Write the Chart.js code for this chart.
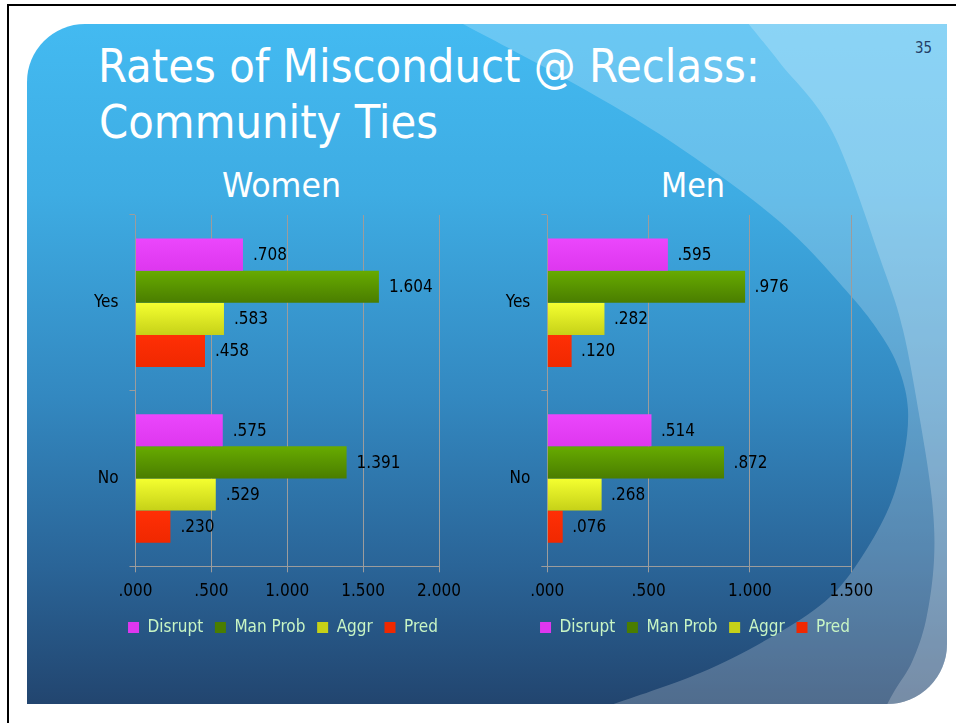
<!DOCTYPE html>
<html><head><meta charset="utf-8">
<script src="https://cdn.jsdelivr.net/npm/chart.js@4.4.1/dist/chart.umd.min.js"></script>
<style>
html,body{margin:0;padding:0;background:#fff;width:956px;height:723px;overflow:hidden}
#bg{position:absolute;left:0;top:0}
canvas{position:absolute}
#women{left:87px;top:200px}
#men{left:500px;top:200px}
</style></head><body>
<svg id="bg" width="956" height="723" xmlns="http://www.w3.org/2000/svg">
  <defs>
    <linearGradient id="base" x1="0" y1="24" x2="0" y2="704" gradientUnits="userSpaceOnUse">
      <stop offset="0" stop-color="#43baf1"/>
      <stop offset="0.25" stop-color="#3eace3"/>
      <stop offset="0.55" stop-color="#3388c0"/>
      <stop offset="0.8" stop-color="#2a6497"/>
      <stop offset="1" stop-color="#22456f"/>
    </linearGradient>
    <clipPath id="slideClip"><path id="slideClipPath" d=""/></clipPath>
  </defs>
  <line x1="7" y1="5" x2="956" y2="5" stroke="#000" stroke-width="2"/>
  <line x1="8" y1="4" x2="8" y2="723" stroke="#000" stroke-width="2"/>
  <path id="slide" d="" fill="url(#base)"/>
  <g clip-path="url(#slideClip)">
    <path id="ovA" d="" fill="#ffffff" fill-opacity="0.21"/>
    <path id="ovB" d="" fill="#ffffff" fill-opacity="0.22"/>
  </g>
  <text x="98" y="82" fill="#fff" font-family="'DejaVu Sans Condensed','Liberation Sans Narrow','DejaVu Sans',sans-serif" font-size="47" textLength="662" lengthAdjust="spacingAndGlyphs">Rates of Misconduct @ Reclass:</text>
  <text x="99" y="138" fill="#fff" font-family="'DejaVu Sans Condensed','Liberation Sans Narrow','DejaVu Sans',sans-serif" font-size="47" textLength="339" lengthAdjust="spacingAndGlyphs">Community Ties</text>
  <text x="222" y="197" fill="#fff" font-family="'DejaVu Sans Condensed','Liberation Sans Narrow','DejaVu Sans',sans-serif" font-size="33" textLength="119" lengthAdjust="spacingAndGlyphs">Women</text>
  <text x="661" y="197" fill="#fff" font-family="'DejaVu Sans Condensed','Liberation Sans Narrow','DejaVu Sans',sans-serif" font-size="33" textLength="64" lengthAdjust="spacingAndGlyphs">Men</text>
  <text x="915" y="53" fill="#243f66" font-family="'DejaVu Sans Condensed','Liberation Sans Narrow','DejaVu Sans',sans-serif" font-size="15" textLength="17" lengthAdjust="spacingAndGlyphs">35</text>
</svg>
<canvas id="women" width="392" height="446"></canvas>
<canvas id="men" width="390" height="446"></canvas>
<script>
// ---------------- DATA ----------------
const categories = ['Yes', 'No'];
const seriesNames = ['Disrupt', 'Man Prob', 'Aggr', 'Pred'];

const womenDisrupt = [0.708, 0.575];
const womenManProb = [1.604, 1.391];
const womenAggr    = [0.583, 0.529];
const womenPred    = [0.458, 0.230];

const menDisrupt = [0.595, 0.514];
const menManProb = [0.976, 0.872];
const menAggr    = [0.282, 0.268];
const menPred    = [0.120, 0.076];

const womenTickLabels = ['.000', '.500', '1.000', '1.500', '2.000'];
const menTickLabels   = ['.000', '.500', '1.000', '1.500'];

// ---------------- BACKGROUND SHAPES (decoration) ----------------
function smooth(pts) {
  let d = 'M' + pts[0][0] + ',' + pts[0][1];
  for (let i = 0; i < pts.length - 1; i++) {
    const p0 = pts[i - 1] || pts[i], p1 = pts[i], p2 = pts[i + 1], p3 = pts[i + 2] || p2;
    const c1 = [p1[0] + (p2[0] - p0[0]) / 6, p1[1] + (p2[1] - p0[1]) / 6];
    const c2 = [p2[0] - (p3[0] - p1[0]) / 6, p2[1] - (p3[1] - p1[1]) / 6];
    d += ' C' + c1.join(',') + ' ' + c2.join(',') + ' ' + p2.join(',');
  }
  return d;
}
const slideD = 'M85,24 H947 V644 A60,60 0 0 1 887,704 H27 V82 A58,58 0 0 1 85,24 Z';
document.getElementById('slide').setAttribute('d', slideD);
document.getElementById('slideClipPath').setAttribute('d', slideD);
const curveA = [[463,24],[573,83],[673,143],[780,222],[850,295],[883,338],[900,372],[908,410],[904,455],[890,505],[863,555],[830,597],[780,632],[700,673],[590,712]];
const curveB = [[747,22],[780,63],[833,133],[883,267],[903,330],[920,420],[932,500],[934,560],[926,620],[912,662],[895,690],[883,712]];
document.getElementById('ovA').setAttribute('d', smooth(curveA) + ' L590,730 L1000,730 L1000,0 L463,0 Z');
document.getElementById('ovB').setAttribute('d', smooth(curveB) + ' L883,730 L1000,730 L1000,0 L747,0 Z');

// ---------------- CHARTS ----------------
const FONT = "'DejaVu Sans Condensed','Liberation Sans Narrow','DejaVu Sans',sans-serif";
const GRID = '#9c9c9c';
const CAT_PCT = 0.731;
const seriesColors = [
  { base: '#e83ff8', top: '#eb46fc', bottom: '#de37ef' },
  { base: '#5a9600', top: '#67ab00', bottom: '#4a7d00' },
  { base: '#e4f024', top: '#f4ff30', bottom: '#c6d118' },
  { base: '#fd2b02', top: '#ff2f05', bottom: '#f02800' }
];

function fill(i) {
  const c = seriesColors[i];
  return (ctx) => {
    if (ctx.type !== 'data') return c.base;
    const chart = ctx.chart, ys = chart.scales.y;
    if (!ys || !isFinite(ys.height) || ys.height <= 0) return c.base;
    const n = chart.data.labels.length;
    const group = ys.height / n * CAT_PCT;
    const bh = group / chart.data.datasets.length;
    const center = ys.getPixelForValue(ctx.dataIndex);
    const top = center - group / 2 + ctx.datasetIndex * bh;
    const g = chart.ctx.createLinearGradient(0, top, 0, top + bh);
    g.addColorStop(0, c.top); g.addColorStop(1, c.bottom);
    return g;
  };
}

const valueLabels = {
  id: 'valueLabels',
  afterDatasetsDraw(chart, args, opts) {
    const ctx = chart.ctx;
    ctx.save();
    ctx.font = '17px ' + FONT;
    ctx.fillStyle = '#000';
    ctx.textAlign = 'left';
    ctx.textBaseline = 'middle';
    chart.data.datasets.forEach((ds, di) => {
      chart.getDatasetMeta(di).data.forEach((bar, i) => {
        const txt = ds.data[i].toFixed(3).replace(/^0/, '');
        ctx.fillText(txt, bar.x + opts.offset, bar.y + 1);
      });
    });
    ctx.restore();
  }
};

function makeChart(id, series, tickLabels, xMax, axisX, rightSpace, labelOffset) {
  return new Chart(document.getElementById(id), {
    type: 'bar',
    data: {
      labels: categories,
      datasets: series.map((d, i) => ({
        label: seriesNames[i],
        data: d,
        xAxisID: 'x',
        yAxisID: 'y',
        backgroundColor: fill(i),
        borderWidth: 0,
        categoryPercentage: CAT_PCT,
        barPercentage: 1
      }))
    },
    options: {
      indexAxis: 'y',
      responsive: false,
      animation: false,
      events: [],
      layout: { padding: { top: 15, right: 0, left: 0, bottom: 0 } },
      scales: {
        x: {
          min: 0, max: xMax,
          ticks: {
            stepSize: 0.5, color: '#000', padding: 9,
            font: { size: 17, family: FONT },
            callback: (v, idx) => tickLabels[idx]
          },
          grid: { color: GRID, lineWidth: 1, tickLength: 6, drawTicks: true },
          border: { display: true, color: GRID, width: 1 },
          afterFit: (s) => { s.height = 41; }
        },
        y: {
          position: 'left',
          ticks: { color: '#000', padding: 11, font: { size: 17, family: FONT } },
          grid: { drawOnChartArea: false, drawTicks: true, tickLength: 6, color: GRID, offset: true },
          border: { display: true, color: GRID, width: 1 },
          afterFit: (s) => { s.width = axisX; s.paddingTop = 0; s.paddingBottom = 0; }
        },
        // empty spacer on the right so the legend stays centred under the whole canvas
        yRight: {
          axis: 'y',
          type: 'category',
          position: 'right',
          grid: { display: false },
          border: { display: false },
          ticks: { display: false },
          afterFit: (s) => { s.width = rightSpace; s.paddingTop = 0; s.paddingBottom = 0; }
        }
      },
      plugins: {
        legend: {
          position: 'bottom',
          labels: {
            color: '#c8f5c4', boxWidth: 11, boxHeight: 11, padding: 11.7,
            font: { size: 17, family: FONT }
          }
        },
        tooltip: { enabled: false },
        valueLabels: { offset: labelOffset }
      }
    },
    plugins: [valueLabels]
  });
}

makeChart('women', [womenDisrupt, womenManProb, womenAggr, womenPred], womenTickLabels, 2, 48.5, 40, 10);
makeChart('men', [menDisrupt, menManProb, menAggr, menPred], menTickLabels, 1.5, 47.3, 38.7, 9.5);
</script>
</body></html>
